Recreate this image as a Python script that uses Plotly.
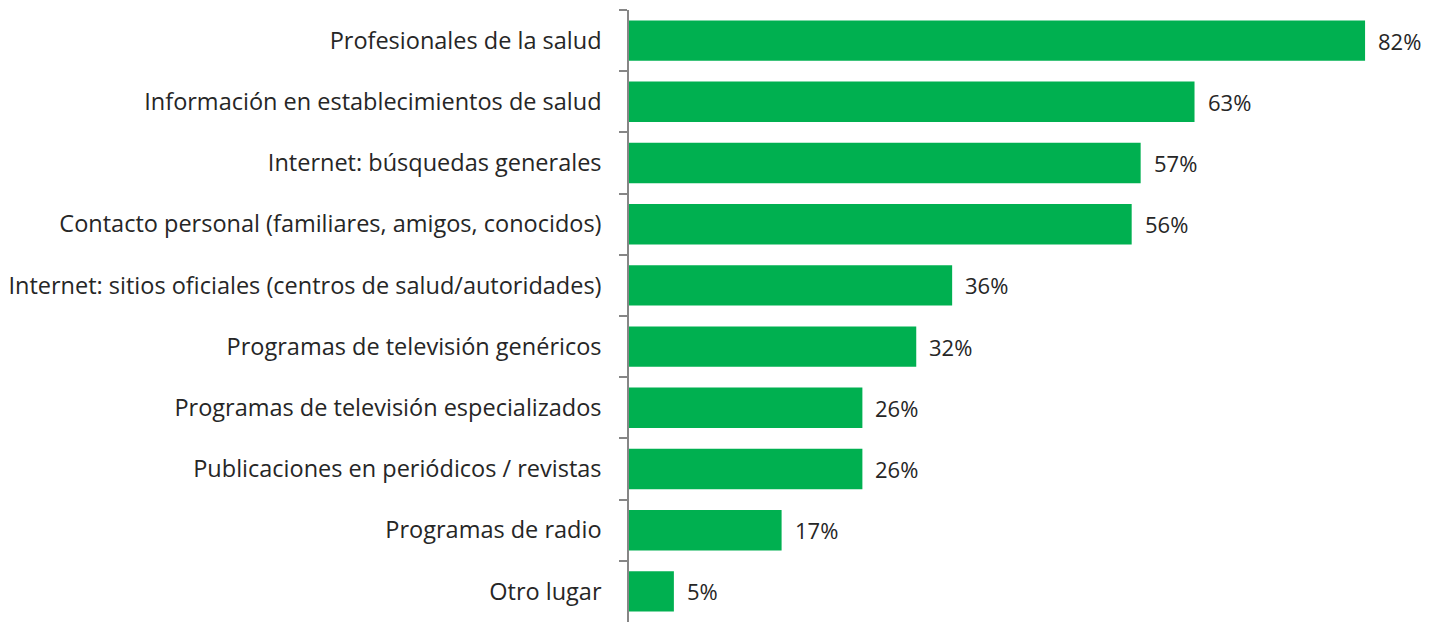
import plotly.graph_objects as go

categories = [
    "Profesionales de la salud",
    "Información en establecimientos de salud",
    "Internet: búsquedas generales",
    "Contacto personal (familiares, amigos, conocidos)",
    "Internet: sitios oficiales (centros de salud/autoridades)",
    "Programas de televisión genéricos",
    "Programas de televisión especializados",
    "Publicaciones en periódicos / revistas",
    "Programas de radio",
    "Otro lugar",
]
values = [82, 63, 57, 56, 36, 32, 26, 26, 17, 5]
value_labels = [f"{v}%" for v in values]

FONT = "Open Sans"
FS = 23.5

fig = go.Figure()
fig.add_trace(go.Bar(
    x=values, y=categories, orientation="h",
    marker=dict(color="#00B050", line=dict(width=0)),
    hoverinfo="x+y",
))

for v, c, t in zip(values, categories, value_labels):
    fig.add_annotation(x=v, y=c, text=t, showarrow=False, xanchor="left",
                       xshift=11, font=dict(family=FONT, size=22, color="#262626"))

fig.update_layout(
    width=1422, height=614,
    margin=dict(l=621, r=38, t=2, b=0),
    paper_bgcolor="white", plot_bgcolor="white",
    bargap=0.34,
    showlegend=False,
    font=dict(family=FONT, size=FS, color="#262626"),
)
fig.update_xaxes(range=[0, 85], visible=False)
fig.update_yaxes(
    autorange="reversed", showline=True, linecolor="#868686", linewidth=1.5,
    ticks="outside", tickson="boundaries", ticklen=8, tickcolor="#868686", tickwidth=1.5,
    ticklabelstandoff=21, showgrid=False,
    tickfont=dict(family=FONT, size=FS, color="#262626"),
)

fig.write_html("out.html")
